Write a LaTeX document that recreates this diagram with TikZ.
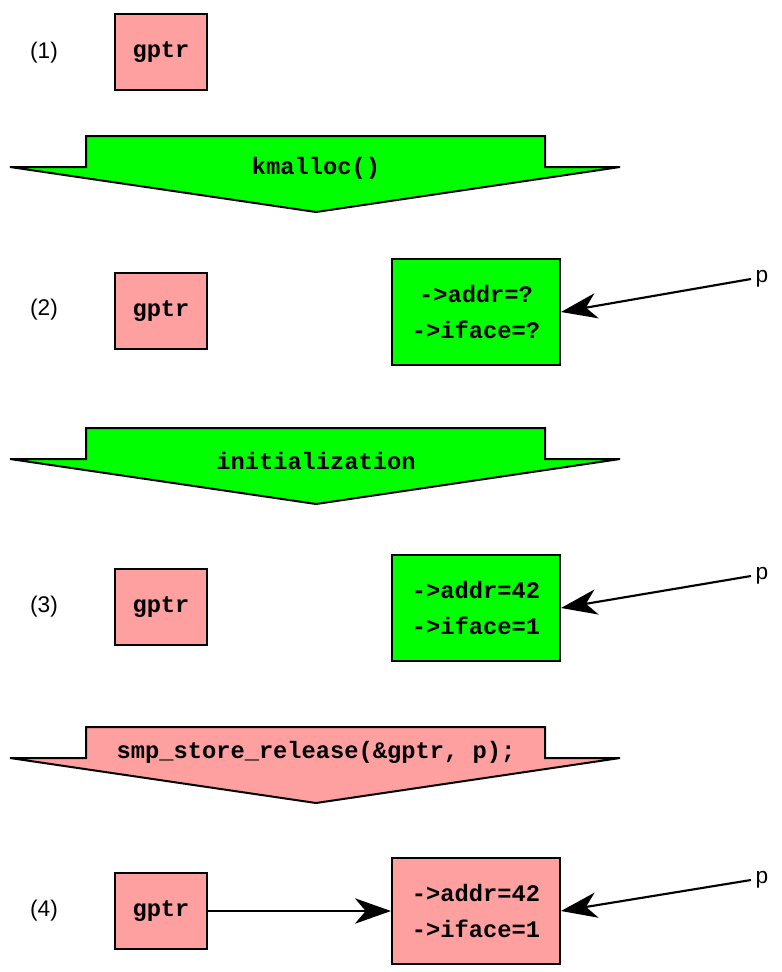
\documentclass[tikz,border=0pt]{standalone}
\usepackage{fontspec}
\setmainfont{Liberation Sans}
\setmonofont{Liberation Mono}
\usepackage{xcolor}
\usepackage{tikz}
\usetikzlibrary{arrows.meta}
\definecolor{ptrpink}{HTML}{FFA0A0}
\definecolor{objgreen}{HTML}{00FF00}
\tikzset{
  boxfont/.style={font=\ttfamily\bfseries\fontsize{17.8}{27}\selectfont},
  ptrbox/.style={draw,line width=1.5pt,fill=ptrpink,boxfont,minimum width=69pt,minimum height=57.5pt,inner sep=0pt},
  objbox/.style={draw,line width=1.5pt,boxfont,align=center,minimum width=126pt,minimum height=80pt,inner sep=0pt},
  rowlabel/.style={font=\fontsize{17}{20}\selectfont},
  steparrow/.style={draw,line width=1.5pt,miter limit=2},
  ptr/.style={line width=1.6pt,-{Stealth[length=27pt,width=19pt,inset=8pt]}}
}
\begin{document}
\begin{tikzpicture}[x=0.75pt,y=-0.75pt]
\def\steparrow#1#2{\filldraw[steparrow,fill=#2] (86,#1) -- (545,#1) -- (545,{#1+31}) -- (620,{#1+31}) -- (316,{#1+76}) -- (10,{#1+31}) -- (86,{#1+31}) -- cycle;}
\useasboundingbox (0,0) rectangle (782,972);
      \node[rowlabel] (l1) at (44,53) {(1)};
      \node[ptrbox] (gptr1) at (161,52) {gptr};
      \steparrow{136}{objgreen}
      \node[boxfont] (step1) at (316,168) {kmalloc()};
      \node[rowlabel] (l2) at (44,310) {(2)};
      \node[ptrbox] (gptr2) at (161,311) {gptr};
      \node[objbox,fill=objgreen] (obj2) at (476,312) {->addr=?\\->iface=?};
      \node[rowlabel] (p2) at (762,279) {p};
      \draw[ptr] (p2.west) -- (obj2.east);
      \steparrow{428}{objgreen}
      \node[boxfont] (step2) at (316,461) {initialization};
      \node[rowlabel] (l3) at (44,607) {(3)};
      \node[ptrbox] (gptr3) at (161,607) {gptr};
      \node[objbox,fill=objgreen] (obj3) at (476,608) {->addr=42\\->iface=1};
      \node[rowlabel] (p3) at (762,576) {p};
      \draw[ptr] (p3.west) -- (obj3.east);
      \steparrow{727}{ptrpink}
      \node[boxfont] (step3) at (316,752) {smp\_store\_release(\&gptr, p);};
      \node[rowlabel] (l4) at (44,911) {(4)};
      \node[ptrbox] (gptr4) at (161,911) {gptr};
      \node[objbox,fill=ptrpink] (obj4) at (476,911) {->addr=42\\->iface=1};
      \node[rowlabel] (p4) at (762,880) {p};
      \draw[ptr] (p4.west) -- (obj4.east);
      \draw[ptr] (gptr4.east) -- (obj4.west);
\end{tikzpicture}
\end{document}
